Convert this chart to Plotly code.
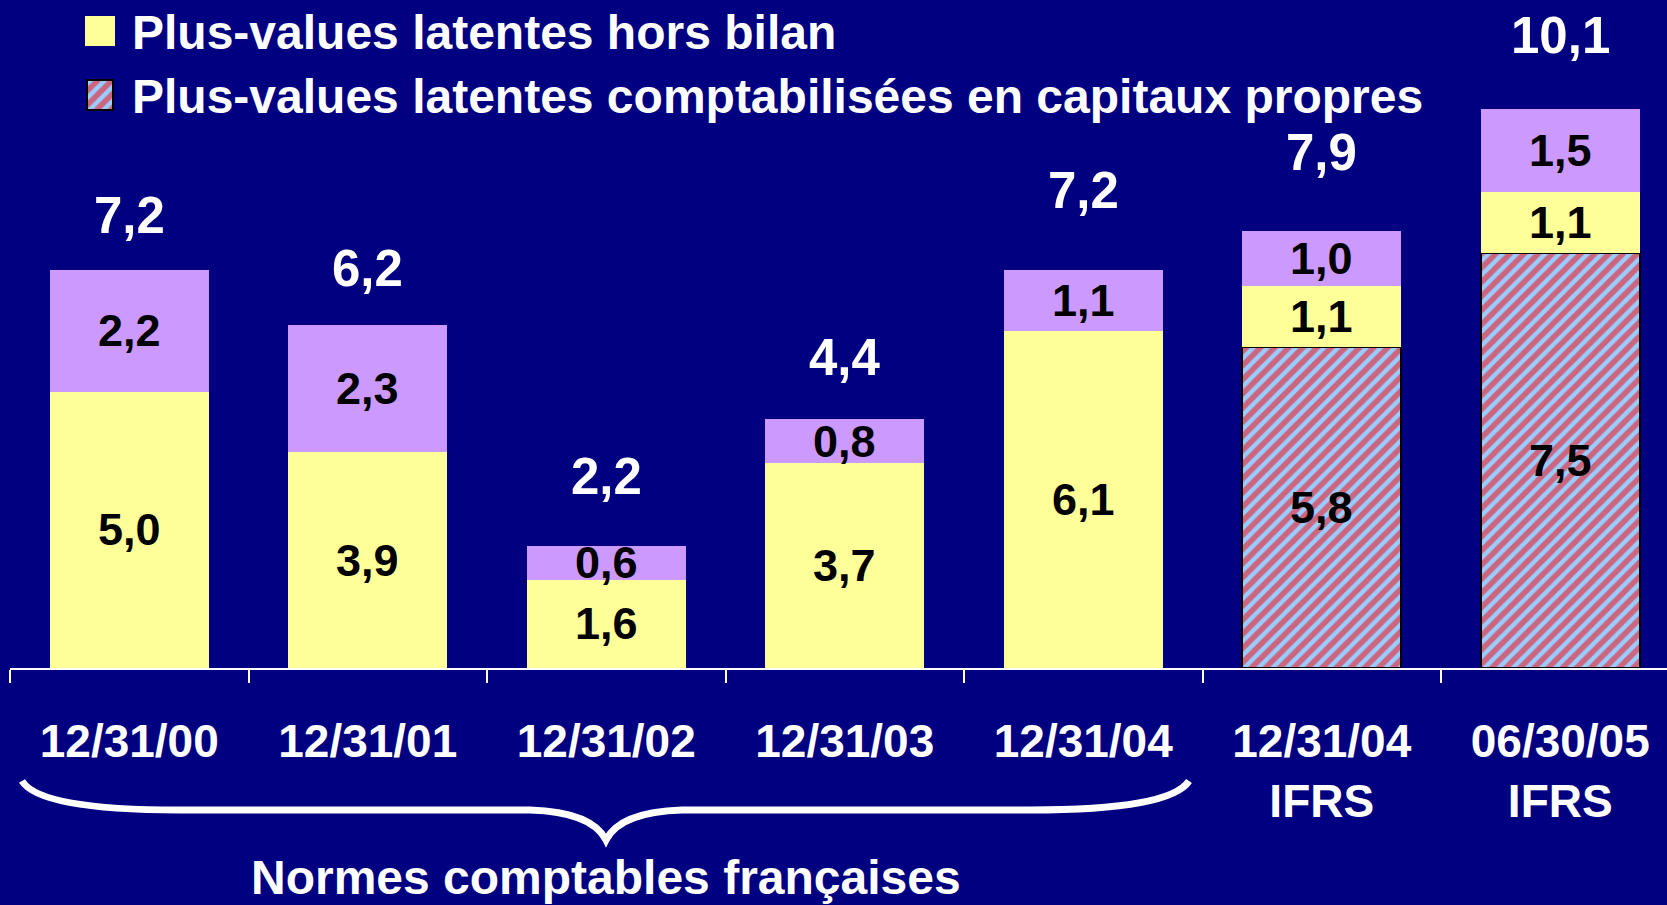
import plotly.graph_objects as go

# ---------------- data ----------------
categories = ["12/31/00", "12/31/01", "12/31/02", "12/31/03", "12/31/04",
              "12/31/04<br>IFRS", "06/30/05<br>IFRS"]
pv_capitaux = [None, None, None, None, None, 5.8, 7.5]      # hatched
pv_hors_bilan = [5.0, 3.9, 1.6, 3.7, 6.1, 1.1, 1.1]          # yellow
pv_autres = [2.2, 2.3, 0.6, 0.8, 1.1, 1.0, 1.5]              # purple
totaux = [7.2, 6.2, 2.2, 4.4, 7.2, 7.9, 10.1]

legend_names = ["Plus-values latentes hors bilan",
                "Plus-values latentes comptabilisées en capitaux propres"]
group_label = "Normes comptables françaises"

# ---------------- style ----------------
BG = "#000080"
YELLOW = "#FFFF99"
PURPLE = "#CC99FF"
HATCH_BG = "#99CCFF"
HATCH_FG = "#FF0000"
FONT = "Liberation Sans, Arial, sans-serif"
total_shift = [54, 57, 70, 62, 79, 79, 74]   # pixel offsets of total labels

W, H = 1667, 905
PL, PR, PT, PB = 10, 0, 0, 237
PW, PH = W - PL - PR, H - PT - PB
PX_PER_UNIT = 55.3
CAT_W = 238.5


def fx(x):
    return (x - PL) / PW


def fy(y):
    return (PH - (y - PT)) / PH


def fmt(v):
    return f"{v:.1f}".replace(".", ",")


fig = go.Figure()

fig.add_trace(go.Bar(
    x=categories, y=pv_capitaux, name=legend_names[1],
    marker=dict(color=HATCH_BG,
                pattern=dict(shape="/", bgcolor=HATCH_BG, fgcolor=HATCH_FG,
                             size=10, solidity=0.55),
                line=dict(color="black", width=2)),
    showlegend=False, hoverinfo="skip"))
fig.add_trace(go.Bar(
    x=categories, y=pv_hors_bilan, name=legend_names[0],
    marker=dict(color=YELLOW, line=dict(width=0)),
    showlegend=False, hoverinfo="skip"))
fig.add_trace(go.Bar(
    x=categories, y=pv_autres, name="Autres",
    marker=dict(color=PURPLE, line=dict(width=0)),
    showlegend=False, hoverinfo="skip"))

annotations = []
# inner segment labels
for i, cat in enumerate(categories):
    base = 0.0
    for series in (pv_capitaux, pv_hors_bilan, pv_autres):
        v = series[i]
        if v is None:
            continue
        annotations.append(dict(
            x=cat, y=base + v / 2, xref="x", yref="y", text=fmt(v),
            showarrow=False, yanchor="middle",
            font=dict(family=FONT, size=45, color="black", weight="bold")))
        base += v
    annotations.append(dict(
        x=cat, y=base, xref="x", yref="y", text=fmt(totaux[i]),
        showarrow=False, yanchor="middle", yshift=total_shift[i],
        font=dict(family=FONT, size=51, color="white", weight="bold")))

# legend texts
for k, (name, yc) in enumerate(zip(legend_names, [32, 96])):
    annotations.append(dict(
        x=fx(130), y=fy(yc), xref="paper", yref="paper", text=name,
        showarrow=False, xanchor="left", yanchor="middle",
        font=dict(family=FONT, size=48, color="white", weight="bold")))

# group label
annotations.append(dict(
    x=fx(606), y=fy(877), xref="paper", yref="paper", text=group_label,
    showarrow=False, xanchor="center", yanchor="middle",
    font=dict(family=FONT, size=48, color="white", weight="bold")))

# legend swatches as tiny bar subplots
fig.add_trace(go.Bar(x=[0], y=[1], width=[1], xaxis="x2", yaxis="y2",
                     marker=dict(color=YELLOW, line=dict(width=0)),
                     showlegend=False, hoverinfo="skip"))
fig.add_trace(go.Bar(x=[0], y=[1], width=[1], xaxis="x3", yaxis="y3",
                     marker=dict(color=HATCH_BG,
                                 pattern=dict(shape="/", bgcolor=HATCH_BG,
                                              fgcolor=HATCH_FG, size=10,
                                              solidity=0.55),
                                 line=dict(color="black", width=2)),
                     showlegend=False, hoverinfo="skip"))


def brace_path():
    pts = [
        ("M", [(22, 781)]),
        ("Q", [(40, 810), (180, 810)]),
        ("L", [(530, 810)]),
        ("Q", [(592, 812), (606, 840)]),
        ("Q", [(620, 812), (682, 810)]),
        ("L", [(1030, 810)]),
        ("Q", [(1170, 810), (1189, 781)]),
    ]
    s = ""
    for cmd, ps in pts:
        s += cmd + " " + " ".join(f"{fx(x):.5f},{fy(y):.5f}" for x, y in ps) + " "
    return s.strip()


fig.update_layout(
    width=W, height=H,
    margin=dict(l=PL, r=PR, t=PT, b=PB, pad=0),
    paper_bgcolor=BG, plot_bgcolor=BG,
    barmode="stack", bargap=0.333,
    annotations=annotations,
    shapes=[dict(type="path", xref="paper", yref="paper", path=brace_path(),
                 line=dict(color="white", width=7), fillcolor="rgba(0,0,0,0)")],
    xaxis=dict(
        type="category", categoryorder="array", categoryarray=categories,
        range=[-0.5, -0.5 + PW / CAT_W],
        showline=True, linecolor="white", linewidth=2,
        ticks="outside", tickson="boundaries", ticklen=13,
        tickcolor="white", tickwidth=2,
        showgrid=False, zeroline=False, fixedrange=True,
        ticklabelstandoff=32,
        tickfont=dict(family=FONT, size=46, color="white", weight="bold"),
    ),
    yaxis=dict(range=[0, PH / PX_PER_UNIT], visible=False, fixedrange=True),
    xaxis2=dict(domain=[fx(85), fx(115)], range=[-0.5, 0.5], visible=False,
                anchor="y2", fixedrange=True),
    yaxis2=dict(domain=[fy(46), fy(16)], range=[0, 1], visible=False,
                anchor="x2", fixedrange=True),
    xaxis3=dict(domain=[fx(85), fx(115)], range=[-0.56, 0.56], visible=False,
                anchor="y3", fixedrange=True),
    yaxis3=dict(domain=[fy(111), fy(79)], range=[-0.05, 1.05], visible=False,
                anchor="x3", fixedrange=True),
    showlegend=False,
)

fig.write_html("out.html")
